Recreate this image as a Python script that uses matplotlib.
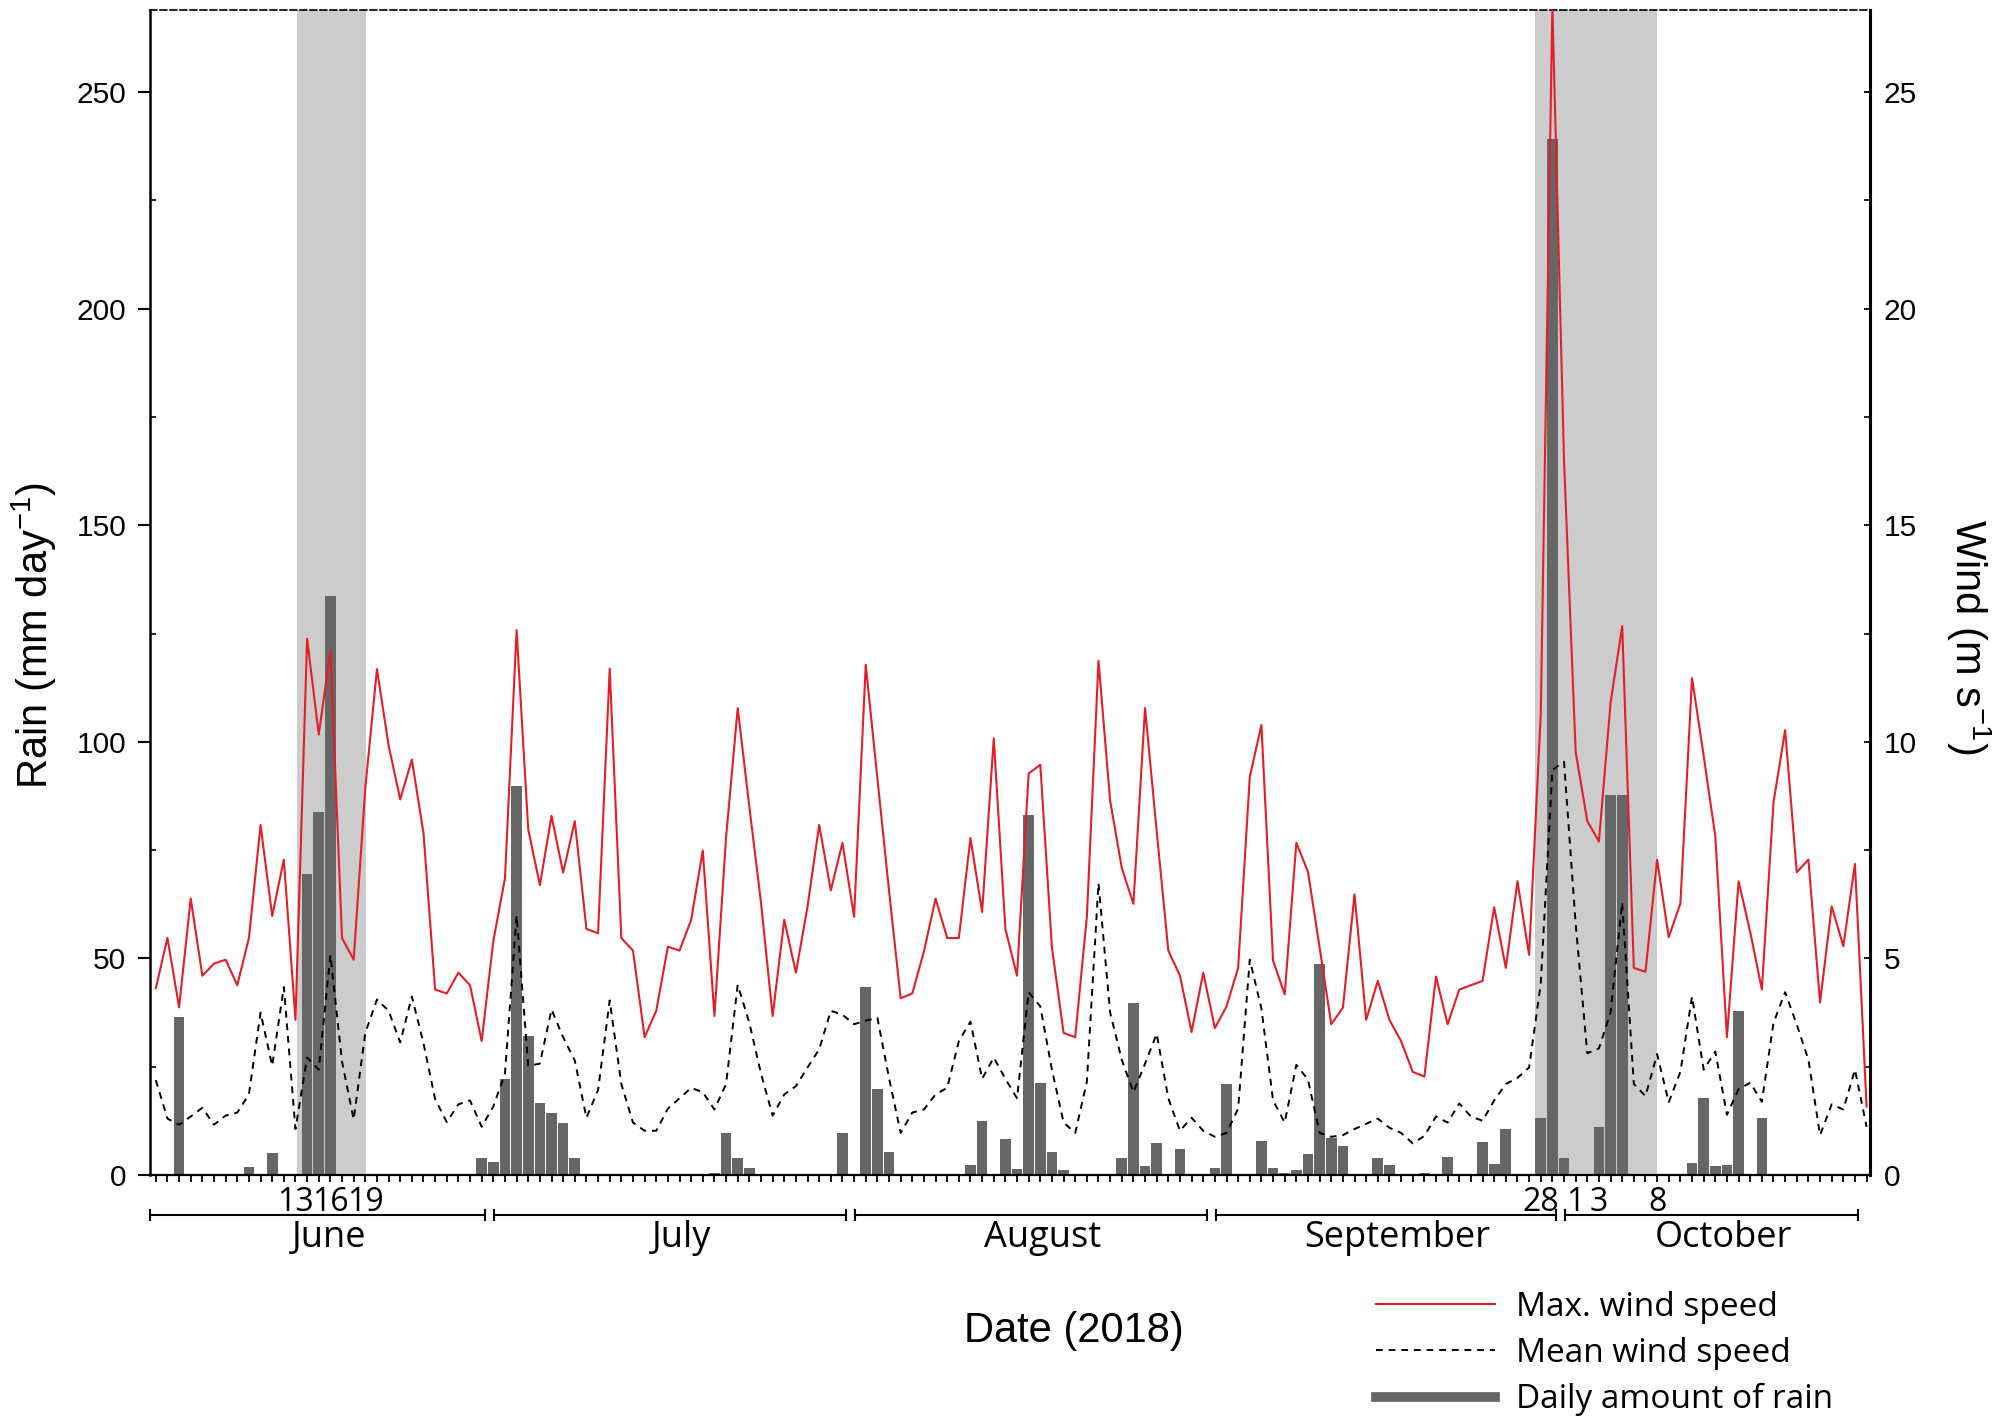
import numpy as np
import matplotlib.pyplot as plt
from matplotlib.lines import Line2D
from matplotlib.ticker import MultipleLocator

plt.rcParams['font.family'] = ['Liberation Sans', 'DejaVu Sans']
plt.rcParams['mathtext.fontset'] = 'custom'
plt.rcParams['mathtext.rm'] = 'Liberation Sans'
plt.rcParams['mathtext.default'] = 'regular'

# daily values, 1 June - 26 October 2018 (one list per month)
rain_jun = [0.3, 0, 36.5, 0, 0, 0, 0, 0, 1.9, 0, 5.1, 0, 0, 69.5, 83.8, 133.7,
            0, 0, 0, 0, 0, 0, 0, 0, 0, 0, 0, 0, 3.8, 3.0]
rain_jul = [22.2, 89.7, 32.1, 16.5, 14.4, 12.1, 4.0, 0, 0, 0, 0, 0, 0, 0, 0, 0,
            0, 0, 0.5, 9.7, 3.8, 1.7, 0, 0, 0, 0, 0, 0, 0.3, 9.7, 0]
rain_aug = [43.4, 19.9, 5.3, 0, 0, 0, 0, 0, 0, 2.4, 12.5, 0, 8.3, 1.4, 83.0, 21.3,
            5.3, 1.2, 0, 0, 0.2, 0, 3.9, 39.8, 2.0, 7.3, 0, 6.0, 0, 0.2, 1.6]
rain_sep = [21.0, 0, 0, 7.8, 1.6, 0.5, 1.2, 4.9, 48.8, 8.6, 6.7, 0, 0, 3.8, 2.4,
            0, 0, 0.5, 0, 4.2, 0, 0, 7.5, 2.6, 10.6, 0, 0, 13.2, 239.2, 3.8]
rain_oct = [0, 0, 11.1, 87.7, 87.7, 0, 0, 0, 0, 0, 2.8, 17.7, 2.1, 2.4, 37.9, 0,
            13.2, 0, 0, 0, 0, 0, 0, 0, 0, 0]

wmax_jun = [4.31, 5.47, 3.87, 6.38, 4.60, 4.88, 4.97, 4.38, 5.47, 8.08, 5.98, 7.28,
            3.58, 12.38, 10.17, 12.10, 5.47, 4.97, 8.93, 11.68, 9.92, 8.67, 9.59,
            7.89, 4.28, 4.19, 4.67, 4.38, 3.09, 5.40]
wmax_jul = [6.85, 12.58, 7.98, 6.69, 8.29, 6.98, 8.17, 5.68, 5.58, 11.69, 5.47, 5.18,
            3.18, 3.79, 5.27, 5.18, 5.89, 7.49, 3.67, 7.80, 10.78, 8.50, 6.29, 3.67,
            5.89, 4.67, 6.20, 8.08, 6.57, 7.67, 5.96]
wmax_aug = [11.78, 9.16, 6.57, 4.08, 4.19, 5.16, 6.38, 5.47, 5.47, 7.78, 6.07, 10.08,
            5.68, 4.60, 9.27, 9.47, 5.25, 3.28, 3.18, 5.96, 11.87, 8.64, 7.09, 6.26,
            10.78, 7.94, 5.18, 4.60, 3.30, 4.67, 3.39]
wmax_sep = [3.89, 4.78, 9.19, 10.39, 4.95, 4.17, 7.67, 7.00, 5.25, 3.48, 3.86, 6.48,
            3.58, 4.48, 3.58, 3.09, 2.38, 2.27, 4.58, 3.48, 4.28, 4.38, 4.48, 6.18,
            4.78, 6.78, 5.08, 10.62, 27.0, 16.5]
wmax_oct = [9.77, 8.17, 7.70, 10.90, 12.67, 4.78, 4.69, 7.28, 5.49, 6.27, 11.47, 9.68,
            7.82, 3.18, 6.78, 5.61, 4.28, 8.60, 10.27, 6.99, 7.28, 3.98, 6.20, 5.28,
            7.18, 1.58]

wmean_jun = [2.19, 1.30, 1.16, 1.35, 1.55, 1.16, 1.37, 1.44, 1.86, 3.75, 2.52, 4.34,
             1.06, 2.71, 2.43, 5.08, 2.62, 1.28, 3.28, 4.05, 3.79, 3.06, 4.12, 3.04,
             1.75, 1.22, 1.63, 1.72, 1.11, 1.58]
wmean_jul = [2.34, 5.99, 2.52, 2.57, 3.82, 3.18, 2.64, 1.32, 1.96, 4.03, 2.10, 1.21,
             1.02, 1.02, 1.53, 1.77, 2.01, 1.91, 1.51, 2.10, 4.39, 3.51, 2.34, 1.37,
             1.86, 2.05, 2.48, 2.90, 3.79, 3.70, 3.48]
wmean_aug = [3.56, 3.63, 2.24, 0.97, 1.44, 1.51, 1.86, 2.01, 3.09, 3.54, 2.22, 2.71,
             2.22, 1.77, 4.22, 3.89, 2.43, 1.21, 0.97, 2.15, 6.74, 3.75, 2.66, 1.91,
             2.57, 3.26, 1.77, 1.02, 1.32, 1.02, 0.88]
wmean_sep = [0.97, 1.53, 4.97, 3.84, 1.72, 1.21, 2.54, 2.20, 0.97, 0.88, 0.92, 1.06,
             1.18, 1.30, 1.09, 0.97, 0.73, 0.90, 1.35, 1.21, 1.65, 1.35, 1.25, 1.72,
             2.10, 2.24, 2.48, 4.41, 9.35, 9.54]
wmean_oct = [5.8, 2.81, 2.92, 3.75, 6.29, 2.10, 1.82, 2.79, 1.68, 2.38, 4.12, 2.43,
             2.85, 1.39, 1.98, 2.13, 1.69, 3.51, 4.22, 3.47, 2.66, 0.92, 1.63, 1.51,
             2.43, 1.11]

months = ['June', 'July', 'August', 'September', 'October']
month_days = [30, 31, 31, 30, 26]

# storm periods (day index, shaded) and labelled dates
storm_periods = [(12.1, 18.1), (118.5, 129.0)]
labelled_days = {12: '13', 15: '16', 18: '19', 119: '28', 122: '1', 124: '3', 129: '8'}

rain = np.array(rain_jun + rain_jul + rain_aug + rain_sep + rain_oct)
wind_max = np.array(wmax_jun + wmax_jul + wmax_aug + wmax_sep + wmax_oct)
wind_mean = np.array(wmean_jun + wmean_jul + wmean_aug + wmean_sep + wmean_oct)
days = np.arange(len(rain))

RED = '#e41e26'
BAR = '#666666'

fig = plt.figure(figsize=(19.92, 14.19), dpi=100)
ax = fig.add_axes([0.0753, 0.172, 0.8635, 0.821])

for a, b in storm_periods:
    ax.axvspan(a, b, color='#cccccc', lw=0, zorder=0)
ax.bar(days, rain, width=0.92, color=BAR, zorder=2)

ax2 = ax.twinx()
ax2.plot(days, wind_max, color=RED, lw=1.5)
ax2.plot(days, wind_mean, color='k', lw=1.4, dashes=(3.5, 3))

ax.set_xlim(-0.5, 147.3)
ax.set_ylim(0, 269)
ax2.set_ylim(0, 26.9)

# spines
ax.spines['right'].set_visible(False)
ax.spines['top'].set_linestyle((0, (4, 2)))
ax.spines['top'].set_linewidth(1.2)
ax.spines['left'].set_linewidth(1.8)
ax.spines['bottom'].set_linewidth(1.6)
for s in ['left', 'top', 'bottom']:
    ax2.spines[s].set_visible(False)
ax2.spines['right'].set_linewidth(2.2)

# left axis ticks
ax.yaxis.set_major_locator(MultipleLocator(50))
ax.yaxis.set_minor_locator(MultipleLocator(25))
ax.tick_params(axis='y', which='major', direction='out', length=9, width=1.5,
               pad=8, labelsize=21.5)
ax.tick_params(axis='y', which='minor', direction='in', length=4, width=1.2)

# right axis ticks
ax2.yaxis.set_major_locator(MultipleLocator(5))
ax2.yaxis.set_minor_locator(MultipleLocator(2.5))
ax2.tick_params(axis='y', which='major', direction='in', length=4, width=1.3,
                pad=10, labelsize=21.5)
ax2.tick_params(axis='y', which='minor', direction='in', length=4, width=1.2)

# day ticks
ax.set_xticks(days)
ax.set_xticklabels([labelled_days.get(d, '') for d in days])
ax.tick_params(axis='x', direction='out', length=5, width=1.3, pad=3, labelsize=23)
for lbl in ax.get_xticklabels():
    lbl.set_fontfamily('Open Sans')

# month brackets
trans = ax.get_xaxis_transform()
yb = -0.0343
start = 0
for name, n in zip(months, month_days):
    lo = max(start - 0.9, -0.5)
    hi = start + n - 1 - 0.7
    ax.plot([lo, hi], [yb, yb], transform=trans, color='k', lw=1.5, clip_on=False)
    for xe in (lo, hi):
        ax.plot([xe, xe], [yb - 0.0045, yb + 0.0045], transform=trans, color='k',
                lw=1.5, clip_on=False)
    ax.text((lo + hi) / 2 + 1, -0.0545, name, transform=trans, ha='center',
            va='center', fontsize=26, family='Open Sans')
    start += n

ax.text(-0.067, 0.463, 'Rain (mm day$^{-1}$)', rotation=90, ha='center', va='center',
        transform=ax.transAxes, fontsize=30)
ax.text(1.0576, 0.462, 'Wind (m s$^{-1}$)', rotation=270, ha='center', va='center',
        transform=ax.transAxes, fontsize=30)
ax.text(0.537, -0.134, 'Date (2018)', ha='center', va='center',
        transform=ax.transAxes, fontsize=30)

handles = [Line2D([], [], color=RED, lw=1.5),
           Line2D([], [], color='k', lw=1.4, dashes=(3.5, 3)),
           Line2D([], [], color=BAR, lw=7)]
labels = ['Max. wind speed', 'Mean wind speed', 'Daily amount of rain']
fig.legend(handles, labels, loc='upper left', bbox_to_anchor=(0.6908, 0.0905),
           frameon=False, prop={'family': 'Open Sans', 'size': 24},
           handlelength=3.57, handletextpad=0.63, labelspacing=0.4,
           borderpad=0, borderaxespad=0)

fig.savefig('out.png', dpi=100)
